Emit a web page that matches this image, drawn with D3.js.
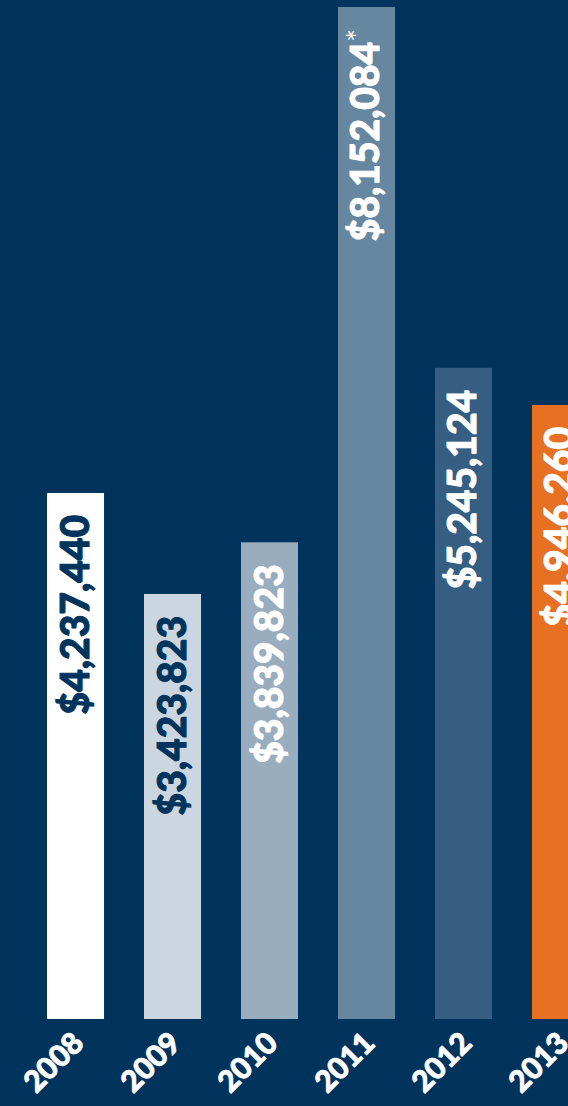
<!DOCTYPE html>
<html>
<head>
<meta charset="utf-8">
<script src="https://cdn.jsdelivr.net/npm/d3@7"></script>
<style>
  body { margin: 0; background: #00345c; overflow: hidden; }
  text { font-family: Lato, "Open Sans", sans-serif; font-weight: 900; }
</style>
</head>
<body>
<div id="chart"></div>
<script>
const years = ["2008", "2009", "2010", "2011", "2012", "2013"];
const amounts = [4237440, 3423823, 3839823, 8152084, 5245124, 4946260];
const notes = ["", "", "", "*", "", ""];
const barColors = ["#ffffff", "#ccd6e0", "#99adbf", "#6786a0", "#365e82", "#e87022"];
const labelColors = ["#00345c", "#00345c", "#ffffff", "#ffffff", "#ffffff", "#ffffff"];

const width = 568, height = 1106, baseY = 1019;

const data = years.map((y, i) => ({
  year: y, amount: amounts[i], note: notes[i], color: barColors[i], labelColor: labelColors[i]
}));

const svg = d3.select("#chart")
              .append("svg")
              .attr("width", width)
              .attr("height", height);

svg.append("rect")
   .attr("width", width)
   .attr("height", height)
   .attr("fill", "#00345c");

const x = d3.scaleBand()
            .domain(years)
            .range([47, 589])
            .paddingInner(0.412)
            .paddingOuter(0);

const y = d3.scaleLinear()
            .domain([0, d3.max(amounts)])
            .range([baseY, 7]);

svg.selectAll(".bar")
   .data(data)
   .enter()
   .append("rect")
   .attr("class", "bar")
   .attr("x", d => x(d.year))
   .attr("y", d => y(d.amount))
   .attr("width", x.bandwidth())
   .attr("height", d => baseY - y(d.amount))
   .attr("fill", d => d.color);

const fmt = d3.format(",.0f");

// value labels, rotated inside the bars
const labels = svg.selectAll(".label")
   .data(data)
   .enter()
   .append("text")
   .attr("class", "label")
   .attr("transform", d => `translate(${x(d.year) + x.bandwidth() / 2 + 13},${y(d.amount) + 22}) rotate(-90)`)
   .attr("text-anchor", "end")
   .style("font-size", "39px")
   .style("fill", d => d.labelColor)
   .style("stroke", d => d.labelColor)
   .style("stroke-width", "1px");

labels.append("tspan").text(d => "$" + fmt(d.amount));
labels.append("tspan")
      .attr("dy", "-0.35em")
      .style("font-size", "30px")
      .style("font-weight", "400")
      .style("stroke-width", "0px")
      .text(d => d.note);

// year labels
svg.selectAll(".year")
   .data(data)
   .enter()
   .append("text")
   .attr("class", "year")
   .attr("transform", d => `translate(${x(d.year) + x.bandwidth() / 2 + 10},${baseY + 26}) rotate(-45)`)
   .attr("text-anchor", "end")
   .style("font-size", "30px")
   .style("fill", "#ffffff")
   .style("stroke", "#ffffff")
   .style("stroke-width", "0.8px")
   .text(d => d.year);
</script>
</body>
</html>
